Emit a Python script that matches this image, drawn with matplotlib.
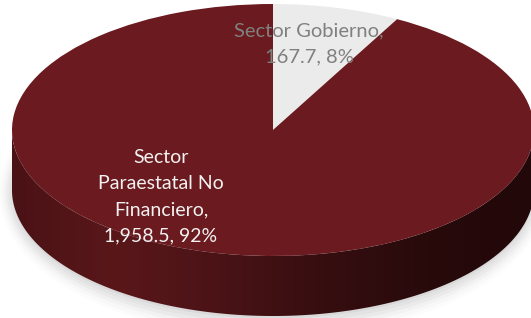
import numpy as np
import matplotlib
matplotlib.use("Agg")
import matplotlib.pyplot as plt
from matplotlib.path import Path
from matplotlib.patches import PathPatch, Ellipse
import matplotlib.colors as mcolors

plt.rcParams['font.family'] = ['Lato', 'DejaVu Sans']

categories = ["Sector Gobierno", "Sector Paraestatal No Financiero"]
values = [167.7, 1958.5]
label_texts = ["Sector Gobierno,\n167.7, 8%", "Sector\nParaestatal No\nFinanciero,\n1,958.5, 92%"]
top_colors = ["#EBEBEB", "#6B1A1F"]

W, H = 531, 318
cx, cy, rx, ry = 273, 130, 261, 126
depth_px = 60
depth = depth_px / ry

fig = plt.figure(figsize=(W / 100, H / 100), dpi=100)
ax = fig.add_axes([0, 0, 1, 1])
ax.set_axis_off()
xlim = ((0 - cx) / rx, (W - cx) / rx)
ylim = ((cy - H) / ry, (cy - 0) / ry)

# soft shadow under the pie
for i, a in enumerate(np.linspace(0.06, 0.015, 6)):
    e = Ellipse((0.0, -depth - 0.02), 2 + 0.02 * i, 2 + 0.06 * i,
                facecolor="#555555", edgecolor="none", alpha=a, zorder=0)
    ax.add_patch(e)

# side wall (front half) as a clip path
t = np.linspace(np.pi, 2 * np.pi, 300)
top_arc = np.column_stack([np.cos(t), np.sin(t)])
bot_arc = np.column_stack([np.cos(t[::-1]), np.sin(t[::-1]) - depth])
verts = np.vstack([top_arc, bot_arc, top_arc[:1]])
codes = [Path.MOVETO] + [Path.LINETO] * (len(verts) - 2) + [Path.CLOSEPOLY]
side_patch = PathPatch(Path(verts, codes), facecolor="none", edgecolor="none", zorder=1)
ax.add_patch(side_patch)
cmap = mcolors.LinearSegmentedColormap.from_list(
    "side", ["#4A1215", "#5A171A", "#4A1316", "#360E10", "#280A0B", "#220809"])
grad = np.linspace(0, 1, 256).reshape(1, -1)
im = ax.imshow(grad, cmap=cmap, extent=(-1, 1, -1 - depth, 0), aspect="auto",
               origin="lower", zorder=1, interpolation="bilinear")
im.set_clip_path(side_patch)

# top face
wedges, _ = ax.pie(values, colors=top_colors, startangle=90, counterclock=False,
                   radius=1, center=(0, 0),
                   wedgeprops=dict(edgecolor="none", linewidth=0))
for w in wedges:
    w.set_zorder(2)

ax.set_aspect("auto")
ax.set_xlim(*xlim)
ax.set_ylim(*ylim)

def px(x, y):
    return ((x - cx) / rx, (cy - y) / ry)

ax.text(*px(309, 44), label_texts[0], ha="center", va="center", fontsize=14.5,
        color="#808080", linespacing=1.6, zorder=5)
ax.text(*px(161, 197), label_texts[1], ha="center", va="center", fontsize=14,
        color="#F2F2F2", linespacing=1.65, zorder=5)

fig.savefig("out.png", dpi=100, facecolor="white")
